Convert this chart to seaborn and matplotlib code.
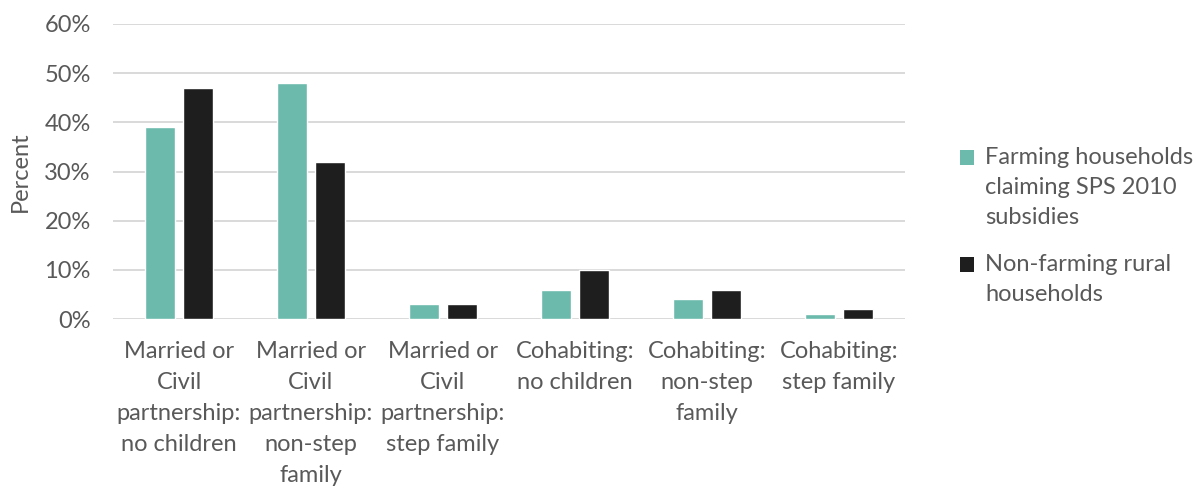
import pandas as pd
import matplotlib.pyplot as plt
import matplotlib.ticker as mticker
from matplotlib.legend_handler import HandlerPatch
from matplotlib.patches import Rectangle
import seaborn as sns

# Data
categories = [
    "Married or\nCivil\npartnership:\nno children",
    "Married or\nCivil\npartnership:\nnon-step\nfamily",
    "Married or\nCivil\npartnership:\nstep family",
    "Cohabiting:\nno children",
    "Cohabiting:\nnon-step\nfamily",
    "Cohabiting:\nstep family",
]
farming = [39, 48, 3, 6, 4, 1]
non_farming = [47, 32, 3, 10, 6, 2]
series_names = ["Farming households\nclaiming SPS 2010\nsubsidies",
                "Non-farming rural\nhouseholds"]

df = pd.DataFrame({
    "category": categories * 2,
    "value": farming + non_farming,
    "series": [series_names[0]] * len(categories) + [series_names[1]] * len(categories),
})

sns.set_style("white")
plt.rcParams['font.family'] = ['Lato', 'DejaVu Sans']
text_col = "#595959"
fs = 17
leg_ls = 1.53


class TopSquare(HandlerPatch):
    # put the legend square next to the first line of a multi-line label
    def __init__(self, nlines):
        super().__init__()
        self.nlines = nlines

    def create_artists(self, legend, orig_handle, xdescent, ydescent,
                       width, height, fontsize, trans):
        shift = (self.nlines - 1) / 2 * leg_ls * 0.83 * fontsize
        r = Rectangle((-xdescent, -ydescent + shift), width, height,
                      facecolor=orig_handle.get_facecolor(), edgecolor="none",
                      transform=trans)
        return [r]


fig = plt.figure(figsize=(11.96, 4.88), dpi=100)
ax = fig.add_axes([0.0945, 0.346, 0.662, 0.605])

sns.barplot(data=df, x="category", y="value", hue="series",
            palette=["#6BBAAC", "#1E1E1E"], width=0.57, gap=0.2,
            saturation=1, ax=ax, zorder=3)

ax.set_ylim(0, 60)
ax.yaxis.set_major_locator(mticker.MultipleLocator(10))
ax.yaxis.set_major_formatter(mticker.FuncFormatter(lambda v, p: f"{v:.0f}%"))
ax.grid(axis="y", color="#D9D9D9", linewidth=1.4, zorder=0)
for s in ax.spines.values():
    s.set_visible(False)
ax.tick_params(axis="both", length=0, labelsize=fs, colors=text_col)
ax.tick_params(axis="y", pad=16)
ax.tick_params(axis="x", pad=16)
for lbl in ax.get_xticklabels():
    lbl.set_linespacing(1.58)
ax.set_xlabel("")
ax.set_ylabel("Percent", fontsize=fs, color=text_col, labelpad=10)

handles, labels = ax.get_legend_handles_labels()
hmap = {h: TopSquare(lab.count("\n") + 1) for h, lab in zip(handles, labels)}
leg = ax.legend(handles, labels, loc="center left", bbox_to_anchor=(0.785, 0.537),
                bbox_transform=fig.transFigure, frameon=False,
                fontsize=fs, handlelength=0.6, handleheight=0.6,
                handletextpad=0.45, labelspacing=1.1, handler_map=hmap)
for t in leg.get_texts():
    t.set_color(text_col)
    t.set_linespacing(leg_ls)
    t.set_multialignment("left")

fig.savefig("out.png", dpi=100)
